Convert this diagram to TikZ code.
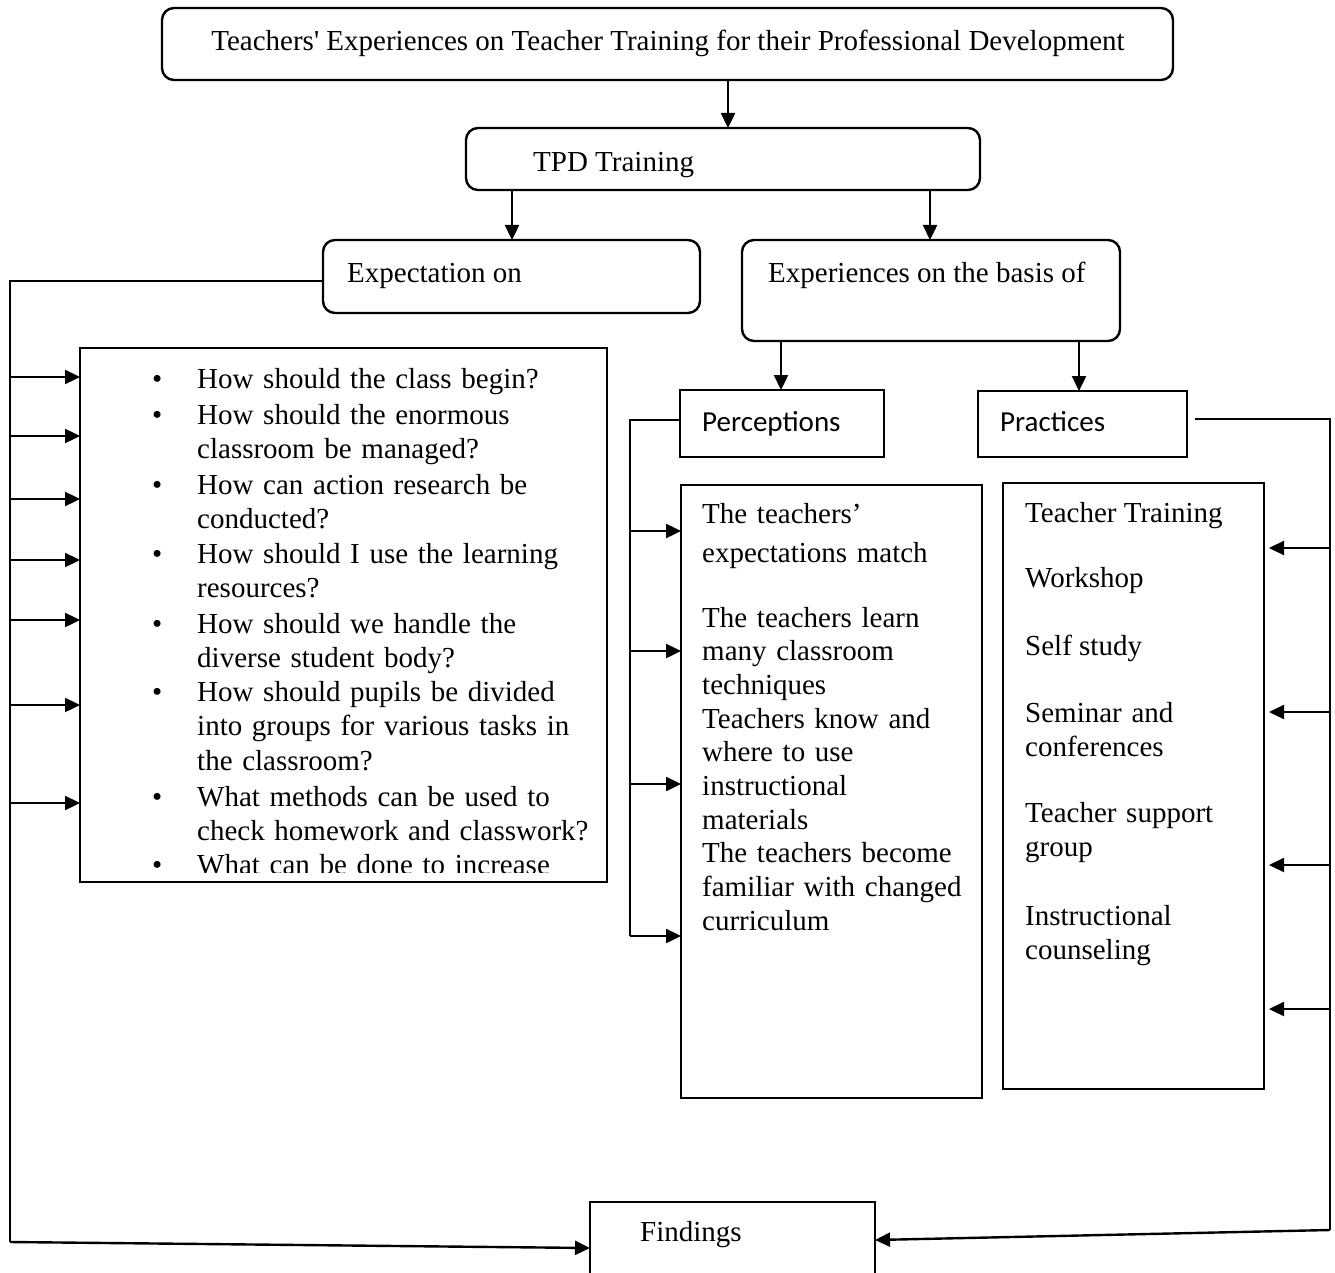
\documentclass[tikz,border=0pt]{standalone}
\usepackage{fontspec}
\setmainfont{Liberation Serif}
\newfontfamily\calfont{Carlito}
\usetikzlibrary{arrows.meta,calc}
\begin{document}
\begin{tikzpicture}[x=1pt,y=-1pt,
  box/.style={draw,line width=2.4pt,inner sep=0pt,outer sep=0pt,anchor=north west},
  rbox/.style={box,rounded corners=12pt},
  txt/.style={anchor=base west,inner sep=0pt,font=\fontsize{29}{34.5}\selectfont},
  mtxt/.style={txt,text width=440pt,align=left},
  ctxt/.style={anchor=base west,inner sep=0pt,font=\calfont\fontsize{29}{34}\selectfont},
  arr/.style={line width=2.4pt,-{Triangle[length=15pt,width=14pt]}},
  ln/.style={line width=2.4pt},
  thinln/.style={line width=1.3pt}]
\clip (0,0) rectangle (1335,1273);
\fill[white] (0,0) rectangle (1335,1273);

% boxes
\node[rbox,minimum width=1011pt,minimum height=72pt] (top) at (162,8) {};
\node[rbox,minimum width=514pt,minimum height=62pt] (tpd) at (466,128) {};
\node[rbox,minimum width=377pt,minimum height=73pt] (expect) at (323,240) {};
\node[rbox,minimum width=378pt,minimum height=101pt] (exper) at (742,240) {};
\node[box,minimum width=204pt,minimum height=67pt] (perc) at (680,390) {};
\node[box,minimum width=209pt,minimum height=66pt] (prac) at (978,391) {};
\node[box,minimum width=527pt,minimum height=534pt] (list) at (80,348) {};
\node[box,minimum width=301pt,minimum height=613pt] (percC) at (681,485) {};
\node[box,minimum width=261pt,minimum height=606pt] (pracC) at (1003,483) {};
\node[box,minimum width=285pt,minimum height=120pt] (find) at (590,1202) {};

% box texts
\node[txt,anchor=base] (toptxt) at (668,51) {Teachers\textquotesingle{} Experiences on Teacher Training for their Professional Development};
\node[txt] (tpdtxt) at (533,172) {TPD Training};
\node[txt] (expecttxt) at (347,282) {Expectation on};
\node[txt] (expertxt) at (768,282) {Experiences on the basis of};
\node[ctxt] (perctxt) at (702,431) {Perceptions};
\node[ctxt] (practxt) at (1000,431) {Practices};
\node[txt] (findtxt) at (640,1241) {Findings};

% list
\begin{scope}
\clip (80,348) rectangle (607,872);
\node[txt] (b1) at (152,388) {•};
\node[txt] (b2) at (152,424) {•};
\node[txt] (b3) at (152,494) {•};
\node[txt] (b4) at (152,563) {•};
\node[txt] (b5) at (152,633) {•};
\node[txt] (b6) at (152,701) {•};
\node[txt] (b7) at (152,806) {•};
\node[txt] (b8) at (152,874) {•};
\node[mtxt] (l1) at (197,388) {How should the class begin?};
\node[mtxt] (l2) at (197,424) {How should the enormous\\classroom be managed?};
\node[mtxt] (l3) at (197,494) {How can action research be\\conducted?};
\node[mtxt] (l4) at (197,563) {How should I use the learning\\resources?};
\node[mtxt] (l5) at (197,633) {How should we handle the\\diverse student body?};
\node[mtxt] (l6) at (197,701) {How should pupils be divided\\into groups for various tasks in\\the classroom?};
\node[mtxt] (l7) at (197,806) {What methods can be used to\\check homework and classwork?};
\node[mtxt] (l8) at (197,874) {What can be done to increase};
\end{scope}

% perceptions content
\node[mtxt] (p1) at (702,523) {The teachers’};
\node[mtxt] (p2) at (702,562) {expectations match};
\node[mtxt,font=\fontsize{29}{33.7}\selectfont] (p3) at (702,627) {The teachers learn\\many classroom\\techniques\\Teachers know and\\where to use\\instructional\\materials\\The teachers become\\familiar with changed\\curriculum};

% practices content
\node[txt] (q1) at (1025,522) {Teacher Training};
\node[txt] (q2) at (1025,587) {Workshop};
\node[txt] (q3) at (1025,655) {Self study};
\node[mtxt] (q4) at (1025,722) {Seminar and\\conferences};
\node[mtxt] (q5) at (1025,822) {Teacher support\\group};
\node[mtxt] (q6) at (1025,925) {Instructional\\counseling};

% main arrows
\coordinate (xa) at (728,0);
\coordinate (xb) at (512,0);
\coordinate (xc) at (930,0);
\coordinate (xd) at (781,0);
\coordinate (xe) at (1079,0);
\draw[arr] (top.south -| xa) -- (tpd.north -| xa);
\draw[arr] (tpd.south -| xb) -- (expect.north -| xb);
\draw[arr] (tpd.south -| xc) -- (exper.north -| xc);
\draw[arr] (exper.south -| xd) -- (perc.north -| xd);
\draw[arr] (exper.south -| xe) -- (prac.north -| xe);

% left feedback line
\coordinate (LT) at (10,281);
\coordinate (LB) at (10,1242);
\draw[ln] ($(expect.north west)+(0,41)$) -- (LT) -- (LB);
\draw[arr] (LB) -- ($(find.north west)+(0,46)$);
\foreach \y in {377,436,499,560,620,705,803}{
  \coordinate (ly) at (0,\y);
  \draw[arr] (LB |- ly) -- (list.west |- ly);
}

% perceptions connector
\coordinate (PT) at (630,420);
\coordinate (PB) at (630,936);
\draw[thinln] ($(perc.north west)+(0,30)$) -- (PT) -- (PB);
\foreach \y in {531,651,784,936}{
  \coordinate (py) at (0,\y);
  \draw[arr] (PT |- py) -- (percC.west |- py);
}

% practices connector
\coordinate (RT) at (1330,419);
\coordinate (RB) at (1330,1230);
\draw[ln] ($(prac.north east)+(8,28)$) -- (RT) -- (RB);
\draw[arr] (RB) -- ($(find.north east)+(0,38)$);
\foreach \y in {548,712,865,1009}{
  \coordinate (ry) at (0,\y);
  \draw[arr] (RT |- ry) -- ($(pracC.east |- ry)+(5,0)$);
}
\end{tikzpicture}
\end{document}
